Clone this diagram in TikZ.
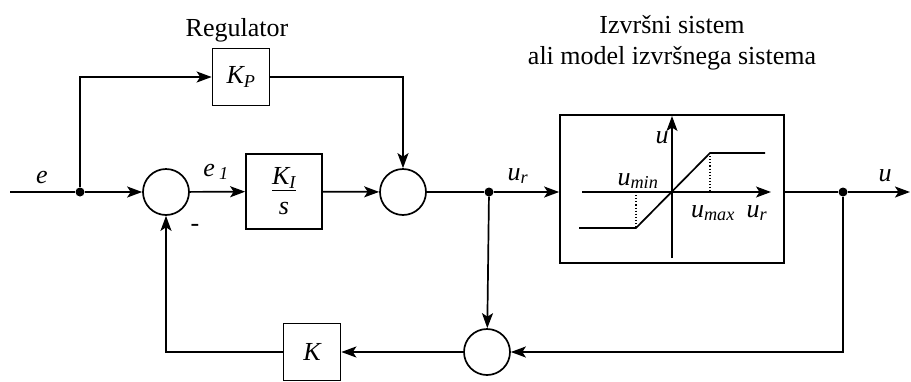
\documentclass[tikz,border=0pt]{standalone}
\usepackage{fontspec}
\setmainfont{Liberation Serif}
\usetikzlibrary{arrows.meta,positioning}

\newcommand*{\yline}{192}
\newcommand*{\yback}{352}

\tikzset{
  block/.style={draw,line width=1.7pt,minimum width=57pt,minimum height=57pt,inner sep=0pt,
    font=\fontsize{26}{30}\selectfont\itshape},
  sumnode/.style={draw,circle,line width=1.7pt,minimum size=46pt,inner sep=0pt},
  dot/.style={circle,fill,inner sep=0pt,minimum size=9pt},
  wire/.style={line width=1.7pt},
  sig/.style={wire,-{Stealth[length=15pt,width=11pt,inset=3.5pt]}},
  lbl/.style={font=\fontsize{26}{30}\selectfont\itshape,inner sep=0pt},
  title/.style={font=\fontsize{26}{31}\selectfont,align=center,inner sep=0pt},
}

\begin{document}
\begin{tikzpicture}[x=1pt,y=-1pt]
	\useasboundingbox (0,0) rectangle (911,381);

	% blocks
	\node[sumnode] (s1) at (166,\yline) {};
	\node[sumnode] (s2) at (403,\yline) {};
	\node[sumnode] (s3) at (487,\yback) {};
	\node[block] (kp) at (241,77) {K\textsubscript{P}};
	\node[block,minimum width=76pt,minimum height=75pt,align=center] (ki) at (284,191.5)
	  {\underline{K\textsubscript{I}}\\[0pt]s};
	\node[block] (k) at (312,\yback) {K};
	\node[block,minimum width=224pt,minimum height=148pt] (plant) at (672,189) {};

	% branch points
	\coordinate (in) at (10,\yline);
	\node[dot] (de) at (80,\yline) {};
	\node[dot] (dur) at (489,\yline) {};
	\node[dot] (du) at (843,\yline) {};
	\coordinate (out) at (910,\yline);

	% signals
	\draw[wire] (in) -- (de);
	\draw[sig] (de) -- (s1);
	\draw[sig] (de) |- (kp);
	\draw[sig] (kp) -| (s2);
	\draw[sig] (s1) -- (ki);
	\draw[sig] (ki) -- (s2);
	\draw[wire] (s2) -- (dur);
	\draw[sig] (dur) -- (plant.west |- dur);
	\draw[sig] (dur) -- (s3);
	\draw[wire] (plant.east |- du) -- (du);
	\draw[sig] (du) -- (out);
	\draw[sig] (du) |- (s3);
	\draw[sig] (s3) -- (k);
	\draw[sig] (k) -| (s1);

	% saturation characteristic
	\coordinate (ax0) at (582,\yline);
	\coordinate (ax1) at (771,\yline);
	\coordinate (ay0) at (672,258);
	\coordinate (ay1) at (672,116);
	\draw[sig,line width=1.3pt] (ax0) -- (ax1);
	\draw[sig,line width=1.3pt] (ay0) -- (ay1);
	\draw[wire] (579,228) -- (636,228) -- (710,153) -- (765,153);
	\draw[dotted,line width=1.1pt] (710,153) -- (710,\yline);
	\draw[dotted,line width=1.1pt] (636,\yline) -- (636,228);

	% labels
	\node[title] (treg) at (237,30) {Regulator};
	\node[title] (tplant) at (672,43) {Izvršni sistem\\ali model izvršnega sistema};
	\node[lbl] (le) at (42,177) {e};
	\node[lbl] (le1) at (216,172) {e\,\textsubscript{1}};
	\node[lbl] (lminus) at (195,228) {-};
	\node[lbl] (lur) at (518,176) {u\textsubscript{r}};
	\node[lbl] (lu) at (885,176) {u};
	\node[lbl] (lay) at (662,138) {u};
	\node[lbl] (lmin) at (638,181) {u\textsubscript{min}};
	\node[lbl] (lmax) at (713,213) {u\textsubscript{max}};
	\node[lbl] (lax) at (757,213) {u\textsubscript{r}};
\end{tikzpicture}
\end{document}
